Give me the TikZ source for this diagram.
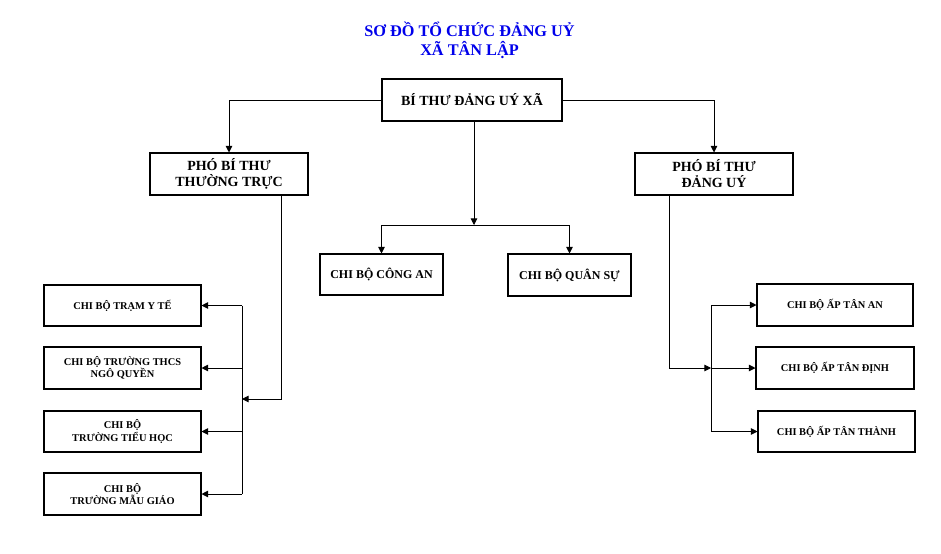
\documentclass[tikz,border=0pt]{standalone}
\usepackage{fontspec}
\setmainfont{Liberation Serif}
\usetikzlibrary{arrows.meta}
\definecolor{titleblue}{RGB}{0,0,235}
\tikzset{
  bx/.style args={#1x#2}{draw, line width=0.8pt, inner sep=0pt, align=center,
     minimum width=#1*0.75pt, minimum height=#2*0.75pt},
  big/.style={font=\bfseries\fontsize{10.5}{12}\selectfont},
  mid/.style={font=\bfseries\fontsize{9}{10.5}\selectfont},
  sml/.style={font=\bfseries\fontsize{7.8}{9.2}\selectfont},
  ttl/.style={font=\bfseries\fontsize{12.2}{14.2}\selectfont, text=titleblue, align=center},
  ln/.style={line width=0.65pt},
  arr/.style={line width=0.65pt, -{Triangle[length=5pt,width=5pt]}}
}
\begin{document}
\begin{tikzpicture}[x=0.75pt,y=-0.75pt]
\useasboundingbox (0,0) rectangle (941,553);
% title
\node[ttl] (title) at (469.5,40.5) {SƠ ĐỒ TỔ CHỨC ĐẢNG UỶ\\XÃ TÂN LẬP};
% boxes
\node[bx=180x42, big] (top) at (472,100) {BÍ THƯ ĐẢNG UÝ XÃ};
\node[bx=158x42, big] (ptt) at (229,174) {PHÓ BÍ THƯ\\THƯỜNG TRỰC};
\node[bx=158x42, big] (pdu) at (714,174) {PHÓ BÍ THƯ\\ĐẢNG UÝ};
\node[bx=123x41, mid] (ca) at (381.5,274.5) {CHI BỘ CÔNG AN};
\node[bx=123x42, mid] (qs) at (569.5,275) {CHI BỘ QUÂN SỰ};
\node[bx=157x41, sml] (l1) at (122.5,305.5) {CHI BỘ TRẠM Y TẾ};
\node[bx=157x42, sml] (l2) at (122.5,368) {CHI BỘ TRƯỜNG THCS\\NGÔ QUYỀN};
\node[bx=157x41, sml] (l3) at (122.5,431.5) {CHI BỘ\\TRƯỜNG TIỂU HỌC};
\node[bx=157x42, sml] (l4) at (122.5,494) {CHI BỘ\\TRƯỜNG MẪU GIÁO};
\node[bx=156x42, sml] (r1) at (835,305) {CHI BỘ ẤP TÂN AN};
\node[bx=158x42, sml] (r2) at (835,368) {CHI BỘ ẤP TÂN ĐỊNH};
\node[bx=157x41, sml] (r3) at (836.5,431.5) {CHI BỘ ẤP TÂN THÀNH};
% junction coordinates
\coordinate (hb) at (474,225);
\coordinate (lv) at (281,399);
\coordinate (lbus) at (242,399);
\coordinate (rv) at (669,368);
\coordinate (rbus) at (711,368);
% top connections
\draw[arr] (top.west) -| (ptt.north);
\draw[arr] (top.east) -| (pdu.north);
\draw[arr] (top.south -| hb) -- (hb);
\draw[ln] (ca.north |- hb) -- (qs.north |- hb);
\draw[arr] (ca.north |- hb) -- (ca.north);
\draw[arr] (qs.north |- hb) -- (qs.north);
% left side
\draw[arr] (ptt.south -| lv) -- (lv) -- (lbus);
\draw[ln] (lbus |- l1.east) -- (lbus |- l4.east);
\draw[arr] (lbus |- l1.east) -- (l1.east);
\draw[arr] (lbus |- l2.east) -- (l2.east);
\draw[arr] (lbus |- l3.east) -- (l3.east);
\draw[arr] (lbus |- l4.east) -- (l4.east);
% right side
\draw[arr] (pdu.south -| rv) -- (rv) -- (rbus);
\draw[ln] (rbus |- r1.west) -- (rbus |- r3.west);
\draw[arr] (rbus |- r1.west) -- (r1.west);
\draw[arr] (rbus) -- (r2.west);
\draw[arr] (rbus |- r3.west) -- (r3.west);
\end{tikzpicture}
\end{document}
